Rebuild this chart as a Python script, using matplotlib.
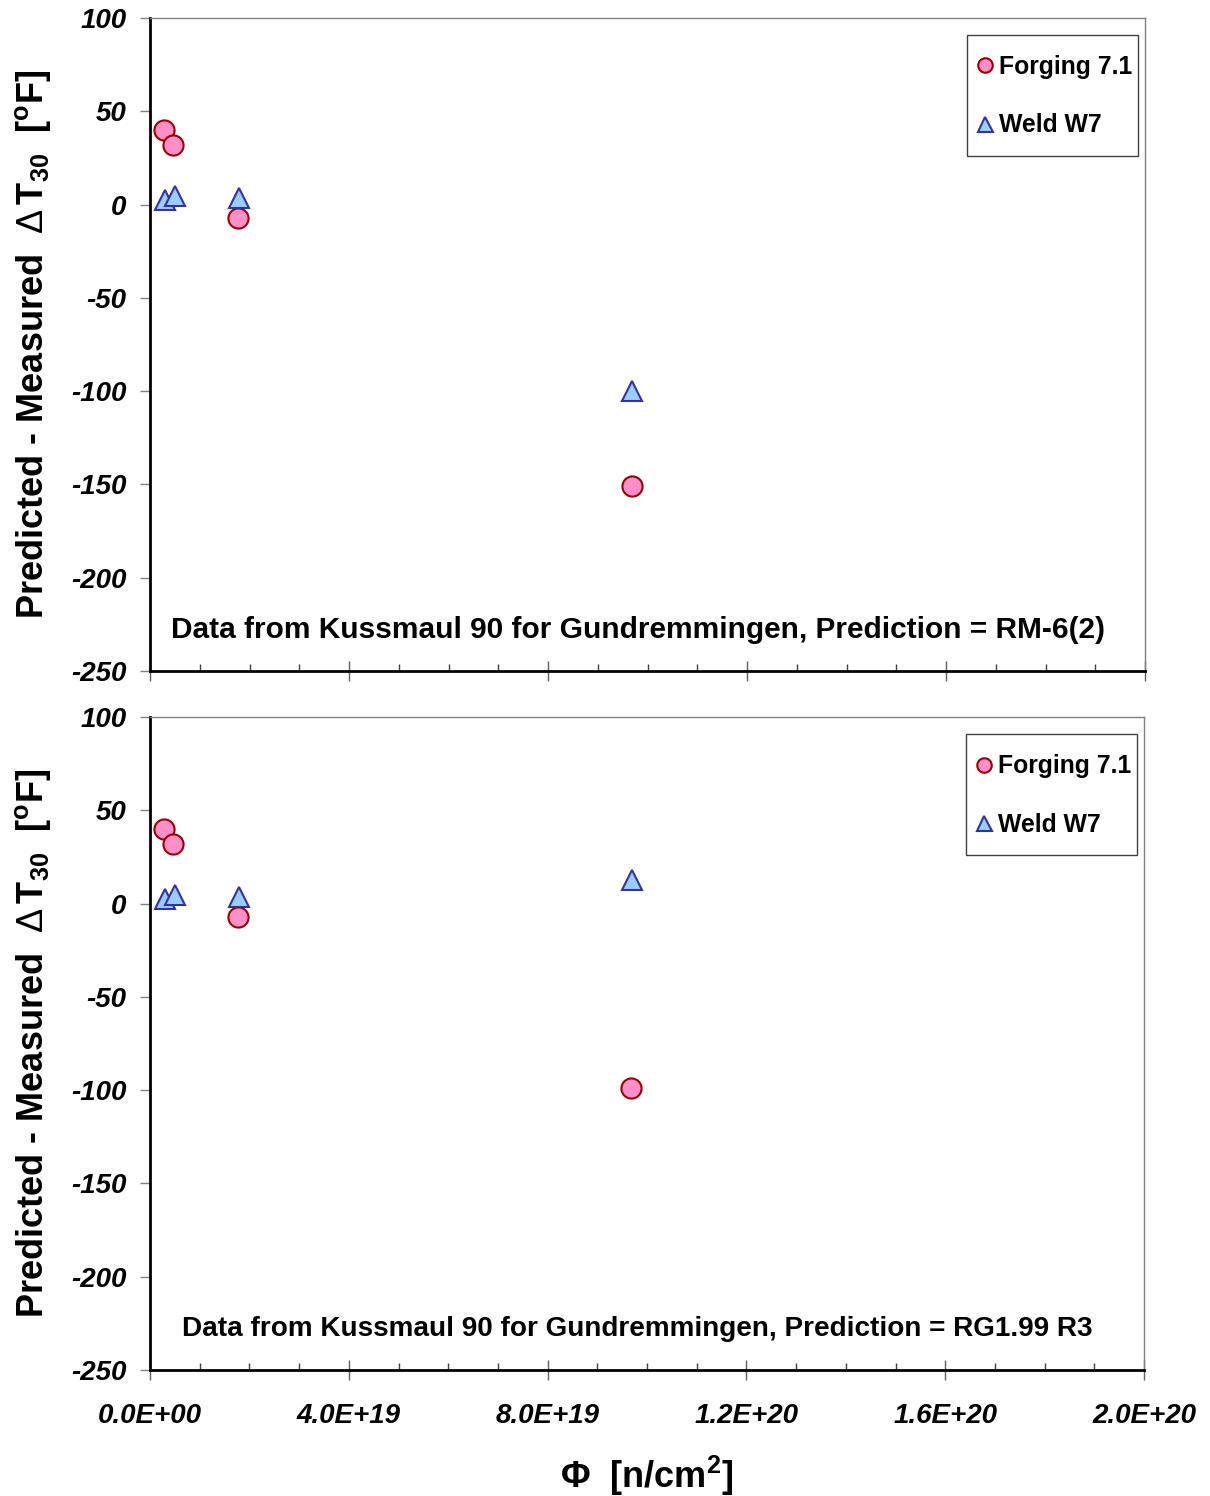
import matplotlib.pyplot as plt
from matplotlib.patches import Rectangle
from matplotlib.ticker import MultipleLocator, FuncFormatter

plt.rcParams['font.family'] = ['Liberation Sans', 'DejaVu Sans']
plt.rcParams['axes.unicode_minus'] = False
plt.rcParams['mathtext.fontset'] = 'custom'
plt.rcParams['mathtext.rm'] = 'Liberation Sans:bold'
plt.rcParams['mathtext.it'] = 'Liberation Sans:bold:italic'
plt.rcParams['mathtext.bf'] = 'Liberation Sans:bold'
plt.rcParams['mathtext.sf'] = 'Liberation Sans'

# Fluence [n/cm^2] and prediction residuals [F]
forging_fluence = [2.8e18, 4.7e18, 1.77e19, 9.68e19]
weld_fluence = [3.1e18, 5.0e18, 1.79e19, 9.69e19]

forging_rm6 = [40, 32, -7, -151]
weld_rm6 = [2.5, 4.4, 3.3, -100]

forging_rg199 = [40, 32, -7, -99]
weld_rg199 = [2.5, 4.4, 3.3, 12.5]

panels = [
    (forging_rm6, weld_rm6,
     "Data from Kussmaul 90 for Gundremmingen, Prediction = RM-6(2)", 21.5),
    (forging_rg199, weld_rg199,
     "Data from Kussmaul 90 for Gundremmingen, Prediction = RG1.99 R3", 20.1),
]

fig = plt.figure(figsize=(12.1, 14.96), dpi=100)
axes = [fig.add_axes([0.124, 0.5515, 0.8223, 0.4365]),
        fig.add_axes([0.124, 0.0842, 0.8215, 0.4365])]

ylabel = r"Predicted - Measured  $\mathsf{\Delta}\,\mathrm{T}_{30}$  [$^{\mathrm{o}}$F]"

for i, (ax, (forg, weld, note, note_size)) in enumerate(zip(axes, panels)):
    ax.plot(forging_fluence, forg, 'o', ms=14.5, mfc='#ff8fc8', mec='#990000',
            mew=1.5, label='Forging 7.1', zorder=3)
    ax.plot(weld_fluence, weld, '^', ms=15, mfc='#99ccff', mec='#333399',
            mew=1.5, label='Weld W7', zorder=3)

    ax.set_xlim(0, 2.0e20)
    ax.set_ylim(-250, 100)
    ax.yaxis.set_major_locator(MultipleLocator(50))
    ax.xaxis.set_major_locator(MultipleLocator(4e19))
    ax.xaxis.set_minor_locator(MultipleLocator(1e19))
    ax.xaxis.set_major_formatter(FuncFormatter(lambda v, p: f"{v:.1E}"))

    for side in ('top', 'right'):
        ax.spines[side].set_color('#808080')
        ax.spines[side].set_linewidth(1.0)
    for side in ('left', 'bottom'):
        ax.spines[side].set_color('black')
        ax.spines[side].set_linewidth(2.0)

    ax.tick_params(axis='y', direction='out', length=7, width=1, color='#808080',
                   pad=10, labelsize=20)
    ax.tick_params(axis='x', which='major', direction='inout', length=15, width=1,
                   color='#606060', pad=16, labelsize=20)
    ax.tick_params(axis='x', which='minor', direction='in', length=5, width=1,
                   color='#404040')
    for lab in ax.get_yticklabels() + ax.get_xticklabels():
        lab.set_fontweight('bold')
        lab.set_fontstyle('italic')
    if i == 0:
        ax.tick_params(axis='x', labelbottom=False)

    ax.set_ylabel(ylabel, fontsize=26, fontweight='bold', labelpad=13)
    ax.text(0.49, 0.063, note, transform=ax.transAxes, ha='center', va='center',
            fontsize=note_size, fontweight='bold')

    # legend entries without frame; box drawn separately for exact padding
    ax.legend(loc='center left', bbox_to_anchor=(0.832, 0.880),
              prop={'weight': 'bold', 'size': 17.8}, markerscale=0.72,
              handlelength=0.6, handletextpad=0.25, labelspacing=1.39,
              borderpad=0, borderaxespad=0, frameon=False)
    ax.add_patch(Rectangle((0.821, 0.789), 0.172, 0.185, transform=ax.transAxes,
                           facecolor='none', edgecolor='#404040', lw=1.0,
                           zorder=4, clip_on=False))

axes[1].set_xlabel(r"$\Phi$  [n/cm$^{\mathrm{2}}$]", fontsize=26, fontweight='bold',
                   labelpad=18)

fig.savefig("out.png", dpi=100)
